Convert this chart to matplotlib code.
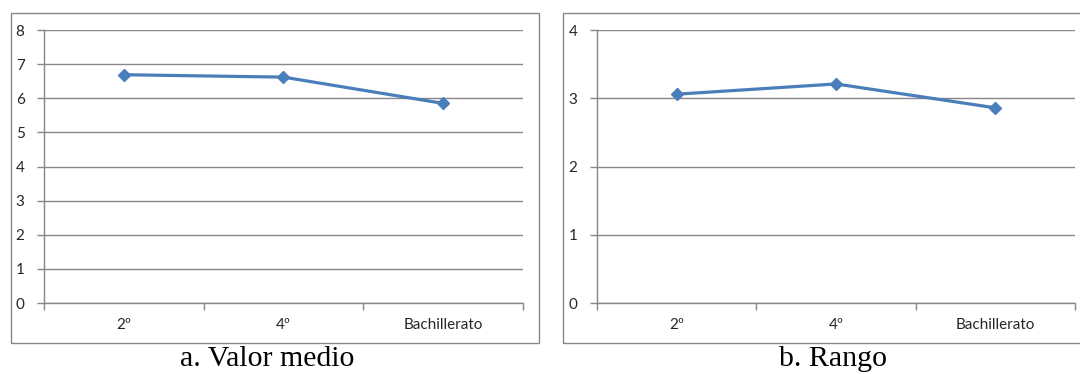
import matplotlib
matplotlib.use("Agg")
import matplotlib.pyplot as plt
from matplotlib.patches import Rectangle

# Data
categories = ["2º", "4º", "Bachillerato"]
valor_medio = [6.69, 6.62, 5.85]
rango = [3.06, 3.21, 2.86]
ylim_medio = 8
ylim_rango = 4
captions = ["a. Valor medio", "b. Rango"]

LINE_BLUE = "#4A7EBB"
GRID_GRAY = "#878787"
TEXT_DARK = "#262626"

fig = plt.figure(figsize=(10.8, 3.74), dpi=100)

# Chart-area frames (the right one runs off the figure edge)
for x0, w in [(0.0102, 0.4889), (0.5213, 0.6)]:
    fig.patches.append(Rectangle((x0, 0.0829), w, 0.8824, transform=fig.transFigure,
                                 fill=False, edgecolor=GRID_GRAY, linewidth=1.0))

axes_specs = [
    ([0.0407, 0.1898, 0.4435, 0.7299], valor_medio, ylim_medio, captions[0], 0.247),
    ([0.5528, 0.1898, 0.4426, 0.7299], rango, ylim_rango, captions[1], 0.771),
]

for rect, values, ymax, caption, cap_x in axes_specs:
    ax = fig.add_axes(rect)
    n = len(categories)
    xs = [i + 0.5 for i in range(n)]
    ax.plot(xs, values, color=LINE_BLUE, linewidth=2.3, marker="D",
            markersize=6, markerfacecolor=LINE_BLUE, markeredgecolor=LINE_BLUE,
            zorder=3)
    ax.set_xlim(0, n)
    ax.set_ylim(0, ymax)

    # Category boundaries carry the tick marks; labels sit at the centres
    ax.set_xticks(range(n + 1))
    ax.set_xticklabels([])
    ax.set_xticks(xs, minor=True)
    ax.set_xticklabels(categories, minor=True)
    ax.tick_params(axis="x", which="major", direction="out", length=5,
                   width=1.0, color=GRID_GRAY)
    ax.tick_params(axis="x", which="minor", length=0, pad=11,
                   labelsize=11, labelcolor=TEXT_DARK)

    ax.set_yticks(range(ymax + 1))
    ax.tick_params(axis="y", direction="out", length=5, width=1.0,
                   color=GRID_GRAY, pad=9, labelsize=11, labelcolor=TEXT_DARK)
    for lbl in ax.get_xticklabels(minor=True) + ax.get_yticklabels():
        lbl.set_fontfamily("Lato")

    ax.grid(axis="y", color=GRID_GRAY, linewidth=1.0)
    ax.set_axisbelow(True)
    for side in ("top", "right"):
        ax.spines[side].set_visible(False)
    for side in ("left", "bottom"):
        ax.spines[side].set_color(GRID_GRAY)
        ax.spines[side].set_linewidth(1.0)

    fig.text(cap_x, 0.040, caption, ha="center", va="center",
             fontsize=21.5, family="Liberation Serif", color="black")

fig.savefig("out.png", dpi=100)
